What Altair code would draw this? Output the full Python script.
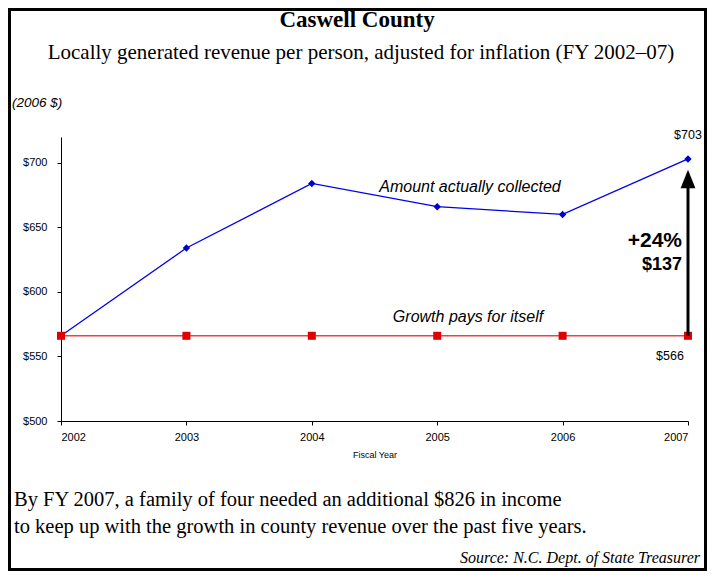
import altair as alt
import pandas as pd

years = [2002, 2003, 2004, 2005, 2006, 2007]
collected = [566, 634, 684, 666, 660, 703]
baseline = [566, 566, 566, 566, 566, 566]
y_ticks = [500, 550, 600, 650, 700]

title = "Caswell County"
subtitle = "Locally generated revenue per person, adjusted for inflation (FY 2002\u201307)"
unit_note = "(2006 $)"
label_collected = "Amount actually collected"
label_growth = "Growth pays for itself"
pct_text = "+24%"
diff_text = "$137"
end_label = "$703"
base_label = "$566"
body1 = "By FY 2007, a family of four needed an additional $826 in income"
body2 = "to keep up with the growth in county revenue over the past five years."
source = "Source: N.C. Dept. of State Treasurer"

df = pd.DataFrame({"year": years, "collected": collected, "baseline": baseline})
arrow_df = pd.DataFrame({"year": [years[-1]], "y0": [baseline[-1]], "y1": [collected[-1]]})
one = pd.DataFrame({"a": [0]})

SERIF = "Liberation Serif"
SANS = "Liberation Sans"

xenc = alt.X("year:Q",
             scale=alt.Scale(domain=[2002, 2007], nice=False, zero=False),
             axis=alt.Axis(values=years, format="d", title="Fiscal Year",
                           titleFont=SANS, titleFontSize=9, titleFontWeight="normal",
                           titleColor="black", titlePadding=8,
                           labelFont=SANS, labelFontSize=11, labelColor="black",
                           labelPadding=6, tickSize=4, tickColor="black", tickOffset=0,
                           domainColor="black", grid=False))
yscale = alt.Scale(domain=[500, 720], nice=False, zero=False)
yaxis = alt.Axis(values=y_ticks, format="$d", title=None,
                 labelFont=SANS, labelFontSize=11, labelColor="black",
                 labelPadding=10, tickSize=4, tickColor="black",
                 domainColor="black", grid=False)

base = alt.Chart(df)
blue_line = base.mark_line(color="#0000EE", strokeWidth=1.3).encode(
    x=xenc, y=alt.Y("collected:Q", scale=yscale, axis=yaxis))
blue_pts = base.mark_point(shape="diamond", filled=True, color="#0000CC", size=55, opacity=1).encode(
    x="year:Q", y="collected:Q")
red_line = base.mark_line(color="#F04040", strokeWidth=1.6).encode(
    x="year:Q", y="baseline:Q")
red_pts = base.mark_square(color="#E00000", size=64, opacity=1).encode(
    x="year:Q", y="baseline:Q")

arrow_shaft = alt.Chart(arrow_df).mark_rule(color="black", strokeWidth=3, y2Offset=20).encode(
    x="year:Q", y="y0:Q", y2="y1:Q")
arrow_head = alt.Chart(arrow_df).mark_point(
    shape="M0,-1L0.8,1L-0.8,1Z", filled=True, color="black", size=340, opacity=1, yOffset=20
).encode(x="year:Q", y="y1:Q")


def txt(s, x, y, size, font=SANS, weight="normal", style="normal", align="center", color="black"):
    return alt.Chart(one).mark_text(
        text=s, font=font, fontSize=size, fontWeight=weight, fontStyle=style,
        align=align, baseline="middle", color=color
    ).encode(x=alt.value(x), y=alt.value(y))


frame = alt.Chart(one).mark_rect(fill=None, stroke="black", strokeWidth=3).encode(
    x=alt.value(-51.5), x2=alt.value(644.5), y=alt.value(-127.5), y2=alt.value(432.5))

texts = [
    txt(title, 296, -117, 23, font=SERIF, weight="bold"),
    txt(subtitle, 300, -84, 21, font=SERIF),
    txt(unit_note, -49, -34, 13.5, style="italic", align="left"),
    txt(label_collected, 409, 50, 16, style="italic"),
    txt(label_growth, 407, 180, 16, style="italic"),
    txt(end_label, 627, -2, 12.5),
    txt(base_label, 609, 219, 12.5),
    txt(pct_text, 621, 104, 21, weight="bold", align="right"),
    txt(diff_text, 621, 128, 18, weight="bold", align="right"),
    txt(body1, -47, 363, 20.5, font=SERIF, align="left"),
    txt(body2, -47, 390, 20.5, font=SERIF, align="left"),
    txt(source, 639, 421, 16, font=SERIF, style="italic", align="right"),
]

chart = alt.layer(blue_line, blue_pts, red_line, red_pts, arrow_shaft, arrow_head, frame, *texts).properties(
    width=627, height=284,
    autosize=alt.AutoSizeParams(type="none"),
    padding={"left": 53, "top": 129, "right": 19, "bottom": 150},
    background="white",
).configure_view(stroke=None)

chart.save("out.html", embed_options={"renderer": "svg", "actions": False})
